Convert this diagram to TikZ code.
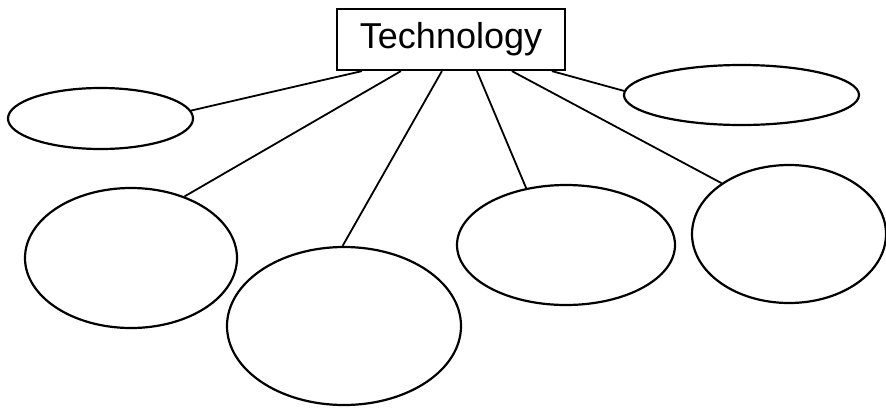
\documentclass[tikz,border=0pt]{standalone}
\usepackage{fontspec}
\setmainfont{Liberation Sans}
\usetikzlibrary{shapes.geometric}

\tikzset{
    topic/.style={draw, line width=1.1pt, inner sep=0pt, minimum width=114pt,
        minimum height=30.5pt, font=\fontsize{18}{20}\selectfont},
    bubble/.style={draw, ellipse, line width=1.1pt, inner sep=0pt},
    link/.style={line width=0.9pt}
}

\begin{document}
\begin{tikzpicture}[x=0.5pt, y=-0.5pt]
    \useasboundingbox (0,0) rectangle (886,407);

    \node[topic] (tech) at (451, 39.5) {Technology};

    \node[bubble, minimum width=92.5pt, minimum height=30.5pt] (small left) at (100.5, 118.5) {};
    \node[bubble, minimum width=106pt, minimum height=70pt] (big left) at (131, 258) {};
    \node[bubble, minimum width=117pt, minimum height=79pt] (bottom) at (344, 326) {};
    \node[bubble, minimum width=109pt, minimum height=60pt] (mid right) at (566, 245) {};
    \node[bubble, minimum width=97pt, minimum height=69pt] (big right) at (789, 234) {};
    \node[bubble, minimum width=117.5pt, minimum height=30pt] (small right) at (741.5, 95) {};

    \draw[link] ([xshift=13pt]tech.south west) -- (small left.5);
    \draw[link] ([xshift=32.5pt]tech.south west) -- (big left.49);
    \draw[link] ([xshift=53pt]tech.south west) -- (bottom.91);
    \draw[link] ([xshift=70.5pt]tech.south west) -- (mid right.125);
    \draw[link] ([xshift=88pt]tech.south west) -- (big right.143);
    \draw[link] ([xshift=108pt]tech.south west) -- (small right.178);
\end{tikzpicture}
\end{document}
